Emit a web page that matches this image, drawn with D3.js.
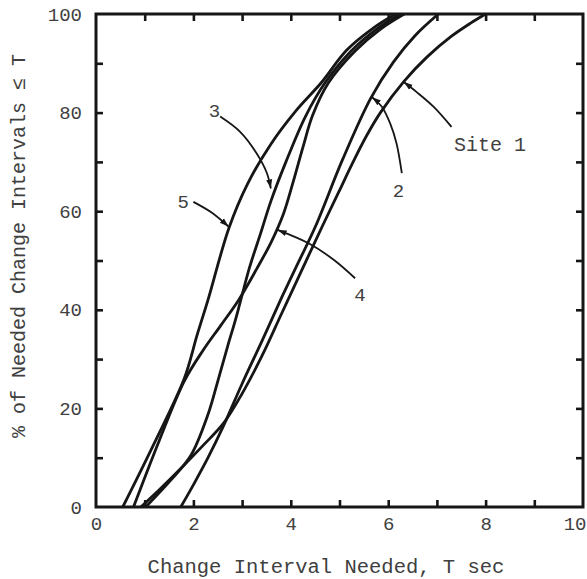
<!DOCTYPE html>
<html>
<head>
<meta charset="utf-8">
<script src="https://cdn.jsdelivr.net/npm/d3@7"></script>
<style>
  body { margin: 0; background: #fff; }
  svg { display: block; }
  text { font-family: "Liberation Mono", "Courier New", monospace; fill: #404040; }
</style>
</head>
<body>
<svg id="chart" width="587" height="579"></svg>
<script>
// Cumulative distributions of needed change interval, one per site (x in sec, y in %)
const site1X = [0.92, 1.3, 1.74, 2.2, 2.62, 3.0, 3.4, 3.8, 4.2, 4.64, 4.98, 5.26, 5.55, 5.84, 6.32, 6.8, 7.3, 7.7, 8.0];
const site1Y = [0, 3.5, 7.8, 12.5, 17, 23, 30.5, 39, 47.5, 56.8, 63.8, 69.6, 75.2, 80.0, 86.3, 91.3, 95.5, 98.2, 100];

const site2X = [1.74, 2.0, 2.3, 2.62, 3.0, 3.4, 3.79, 4.15, 4.51, 5.06, 5.64, 6.11, 6.55, 7.03];
const site2Y = [0, 4.5, 10, 16.5, 25, 33.5, 42, 49.5, 57, 70.4, 82.9, 90.3, 95.6, 100];

const site3X = [1.02, 1.54, 1.95, 2.29, 2.5, 2.7, 2.85, 2.96, 3.15, 3.38, 3.59, 3.9, 4.3, 4.7, 5.24, 5.77, 6.25];
const site3Y = [0, 5.5, 10.5, 18.5, 25.5, 32.5, 37.5, 41.5, 48.5, 55.5, 62, 70, 79.2, 86, 92.5, 97, 100];

const site4X = [0.77, 1.3, 1.81, 2.2, 2.56, 2.93, 3.3, 3.6, 3.85, 4.05, 4.25, 4.45, 4.77, 5.32, 5.85, 6.33];
const site4Y = [0, 13.5, 25.5, 31.8, 36.8, 42, 48.3, 53.8, 59.5, 66, 73, 79.5, 86, 92.5, 97, 100];

const site5X = [0.55, 1.2, 1.81, 2.08, 2.3, 2.73, 3.11, 3.59, 4.1, 4.62, 5.15, 5.7, 6.15];
const site5Y = [0, 13, 26, 35, 42, 56.6, 65.5, 73.6, 80.3, 86, 92.7, 97.2, 100];

// Axis ticks and labels
const xMinorTicks = [1, 2, 3, 4, 5, 6, 7, 8, 9];
const yMinorTicks = [10, 20, 30, 40, 50, 60, 70, 80, 90];
const xTickLabels = [0, 2, 4, 6, 8, 10];
const yTickLabels = [0, 20, 40, 60, 80, 100];

// Curve callouts: label text, label anchor (data units) and leader path ending at the curve
const calloutText = ["5", "3", "4", "2", "Site 1"];
const calloutAt = [[1.79, 61.9], [2.43, 80.5], [5.42, 43.2], [6.21, 64.3], [7.35, 73.6]];
const calloutLeader = [
  [[2.0, 61.9], [2.38, 59.7], [2.72, 56.9]],
  [[2.55, 79.2], [2.96, 76.1], [3.30, 71.7], [3.51, 67.7], [3.59, 64.6]],
  [[5.32, 46.4], [4.9, 50.0], [4.4, 53.3], [3.73, 56.2]],
  [[6.28, 67.7], [6.17, 73.8], [6.04, 77.8], [5.87, 81.2], [5.67, 83.1]],
  [[7.30, 77.1], [6.93, 81.2], [6.58, 84.2], [6.32, 86.2]]
];

const xTitle = "Change Interval Needed, T sec";
const yTitle = "% of Needed Change Intervals \u2264 T";

const svg = d3.select("#chart");
const x = d3.scaleLinear().domain([0, 10]).range([96, 583]);
const y = d3.scaleLinear().domain([0, 100]).range([507, 14]);
const ink = "#161616";

const defs = svg.append("defs");
// Arrowhead for leader lines
defs.append("marker")
  .attr("id", "head")
  .attr("markerUnits", "userSpaceOnUse")
  .attr("markerWidth", 10).attr("markerHeight", 8)
  .attr("refX", 9).attr("refY", 4)
  .attr("orient", "auto")
  .append("path").attr("d", "M0,1 L9,4 L0,7 Z").attr("fill", ink);
// Keep curves inside the frame
defs.append("clipPath").attr("id", "plot")
  .append("rect")
  .attr("x", x(0)).attr("y", y(100))
  .attr("width", x(10) - x(0)).attr("height", y(0) - y(100));

// Inward ticks on all four sides
function ticks(axis, tr) {
  const g = svg.append("g").attr("transform", tr).call(axis);
  g.select(".domain").remove();
  g.selectAll(".tick line").attr("stroke", ink).attr("stroke-width", 2.6);
  g.selectAll("text").remove();
}
ticks(d3.axisBottom(x).tickValues(xMinorTicks).tickSize(-7), `translate(0,${y(0)})`);
ticks(d3.axisTop(x).tickValues(xMinorTicks).tickSize(-7), `translate(0,${y(100)})`);
ticks(d3.axisLeft(y).tickValues(yMinorTicks).tickSize(-7), `translate(${x(0)},0)`);
ticks(d3.axisRight(y).tickValues(yMinorTicks).tickSize(-7), `translate(${x(10)},0)`);

// Tick labels
const xl = svg.append("g").attr("transform", `translate(0,${y(0)})`)
  .call(d3.axisBottom(x).tickValues(xTickLabels).tickSize(0).tickPadding(10).tickFormat(d3.format("d")));
xl.select(".domain").remove();
xl.selectAll("text").attr("font-size", 19).attr("fill", "#404040")
  .style("font-family", '"Liberation Mono", monospace')
  .attr("text-anchor", (d, i, n) => i === n.length - 1 ? "end" : "middle")
  .attr("dx", (d, i, n) => i === n.length - 1 ? 3 : 0);

const yl = svg.append("g").attr("transform", `translate(${x(0)},0)`)
  .call(d3.axisLeft(y).tickValues(yTickLabels).tickSize(0).tickPadding(14).tickFormat(d3.format("d")));
yl.select(".domain").remove();
yl.selectAll("text").attr("font-size", 19).attr("fill", "#404040")
  .style("font-family", '"Liberation Mono", monospace');

// Frame
svg.append("rect")
  .attr("x", x(0)).attr("y", y(100))
  .attr("width", x(10) - x(0)).attr("height", y(0) - y(100))
  .attr("fill", "none").attr("stroke", ink).attr("stroke-width", 3);

// Distribution curves
const series = [[site1X, site1Y], [site2X, site2Y], [site3X, site3Y], [site4X, site4Y], [site5X, site5Y]];
const curve = d3.line().x(d => x(d[0])).y(d => y(d[1])).curve(d3.curveCatmullRom.alpha(0.5));
svg.append("g").attr("clip-path", "url(#plot)").selectAll("path")
  .data(series.map(([xs, ys]) => xs.map((v, i) => [v, ys[i]])))
  .join("path")
  .attr("d", curve)
  .attr("fill", "none").attr("stroke", ink).attr("stroke-width", 2.8)
  .attr("stroke-linecap", "round");

// Callout leaders and labels
const leader = d3.line().x(d => x(d[0])).y(d => y(d[1])).curve(d3.curveCatmullRom.alpha(0.5));
svg.append("g").selectAll("path")
  .data(calloutLeader)
  .join("path")
  .attr("d", leader)
  .attr("fill", "none").attr("stroke", ink).attr("stroke-width", 1.8)
  .attr("marker-end", "url(#head)");

svg.append("g").selectAll("text")
  .data(calloutText)
  .join("text")
  .attr("x", (d, i) => x(calloutAt[i][0]))
  .attr("y", (d, i) => y(calloutAt[i][1]))
  .attr("dy", "0.35em")
  .attr("text-anchor", (d, i) => i === 4 ? "start" : "middle")
  .attr("font-size", (d, i) => i === 4 ? 20 : 19)
  .text(d => d);

// Axis titles
svg.append("text")
  .attr("x", 326).attr("y", 573)
  .attr("text-anchor", "middle").attr("font-size", 20.5)
  .text(xTitle);

svg.append("text")
  .attr("transform", "translate(25,246) rotate(-90)")
  .attr("text-anchor", "middle").attr("font-size", 20)
  .text(yTitle);
</script>
</body>
</html>
